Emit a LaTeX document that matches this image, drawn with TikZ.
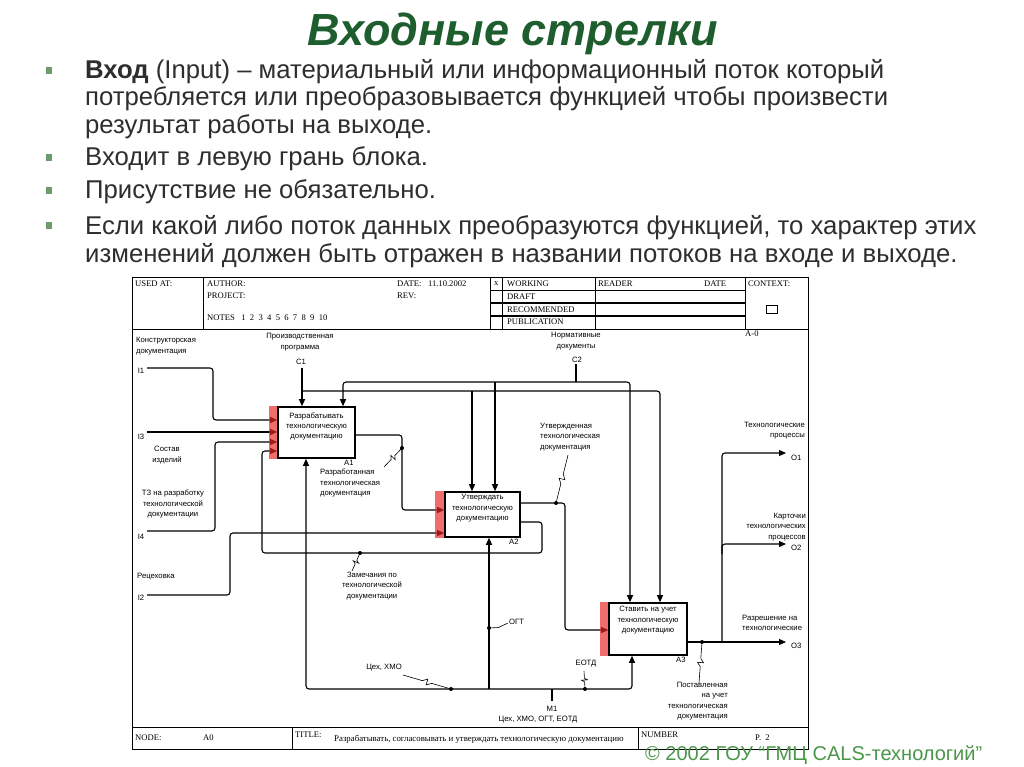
\documentclass[tikz,border=0pt]{standalone}
\usepackage{fontspec}
\setmainfont{Liberation Sans}
\newfontfamily\hdrfont{Liberation Serif}
\usetikzlibrary{arrows.meta,calc}
\definecolor{titlegreen}{HTML}{1E5E2E}
\definecolor{bulgreen}{HTML}{6B9B6B}
\definecolor{copygreen}{HTML}{4A964A}
\definecolor{idefred}{HTML}{E82828}
\definecolor{bodytext}{HTML}{2E2E2E}
\newcommand{\lblfont}{\fontsize{7.7}{10.4}\selectfont}
\newcommand{\squig}[2]{\draw[line width=0.6pt] (#1) -- ($(#1)!0.40!(#2)$) -- ($(#1)!0.5!(#2)!3pt!90:(#2)$) -- ($(#1)!0.5!(#2)!-3pt!90:(#2)$) -- ($(#1)!0.60!(#2)$) -- (#2);}
\begin{document}
\begin{tikzpicture}[x=1pt,y=-1pt,
  ln/.style={line width=1.1pt, rounded corners=3pt},
  arr/.style={ln,-{Triangle[length=7pt,width=6pt]}},
  barr/.style={ln,{Triangle[length=7pt,width=6pt]}-{Triangle[length=7pt,width=6pt]}},
  fbox/.style={draw,line width=1.6pt,fill=white,inner sep=0pt},
  boxtxt/.style={font=\lblfont,align=center,inner sep=0pt},
  lbl/.style={font=\lblfont,inner sep=0pt},
  hdr/.style={font=\hdrfont\fontsize{8.6}{9}\selectfont,inner sep=0pt},
  frame/.style={line width=0.9pt},
  bul/.style={font=\fontsize{25.7}{28}\selectfont,text=bodytext,inner sep=0pt,anchor=base west},
  strip/.style={fill=idefred,opacity=0.68}
]
\useasboundingbox[fill=white] (0,0) rectangle (1024,767);

% ---------- title ----------
\node[font=\fontsize{45}{50}\selectfont\bfseries\itshape,text=titlegreen,anchor=base,inner sep=0pt] (title) at (513,46) {Входные стрелки};

% ---------- bullets ----------
\fill[bulgreen] (46,67) rectangle (52,74);
\fill[bulgreen] (46,154) rectangle (52,161);
\fill[bulgreen] (46,187) rectangle (52,194);
\fill[bulgreen] (46,222) rectangle (52,229);
\node[bul] (b1) at (85,79) {\textbf{Вход} (Input) – материальный или информационный поток который};
\node[bul] (b2) at (85,106) {потребляется или преобразовывается функцией чтобы произвести};
\node[bul] (b3) at (85,134) {результат работы на выходе.};
\node[bul] (b4) at (85,166) {Входит в левую грань блока.};
\node[bul] (b5) at (85,199) {Присутствие не обязательно.};
\node[bul] (b6) at (85,234) {Если какой либо поток данных преобразуются функцией, то характер этих};
\node[bul] (b7) at (85,262) {изменений должен быть отражен в названии потоков на входе и выходе.};

% ---------- frame ----------
\draw[frame] (132,277) rectangle (808,749);
\draw[frame] (132,329) -- (808,329);
\draw[frame] (132,727) -- (808,727);
\foreach \xx in {203,490,502,595,745} \draw[frame] (\xx,277) -- (\xx,329);
\draw[line width=0.7pt] (490,290) -- (745,290);
\draw[line width=1.1pt] (490,303) -- (745,303);
\draw[line width=1.1pt] (490,316) -- (745,316);
\draw[frame] (292,727) -- (292,749);
\draw[frame] (638,727) -- (638,749);
\draw[line width=0.7pt] (766,305) rectangle (777,313);

\node[hdr,anchor=west] (usedat) at (135,284) {USED AT:};
\node[hdr,anchor=west] (author) at (207,284) {AUTHOR:};
\node[hdr,anchor=west] (project) at (207,296) {PROJECT:};
\node[hdr,anchor=west] (notes) at (207,318) {NOTES\ \ \ 1\ \ 2\ \ 3\ \ 4\ \ 5\ \ 6\ \ 7\ \ 8\ \ 9\ \ 10};
\node[hdr,anchor=west] (date) at (397,284) {DATE:\ \ \ 11.10.2002};
\node[hdr,anchor=west] (rev) at (397,296) {REV:};
\node[hdr,anchor=west] (xmark) at (494,284) {x};
\node[hdr,anchor=west] (working) at (507,284) {WORKING};
\node[hdr,anchor=west] (draft) at (507,297) {DRAFT};
\node[hdr,anchor=west] (recom) at (507,309.5) {RECOMMENDED};
\node[hdr,anchor=west] (publ) at (507,322) {PUBLICATION};
\node[hdr,anchor=west] (reader) at (598,284) {READER};
\node[hdr,anchor=west] (rdate) at (704,284) {DATE};
\node[hdr,anchor=west] (context) at (748,284) {CONTEXT:};
\node[hdr,anchor=west] (aminus) at (745,334) {A-0};

\node[hdr,anchor=west] (nodelbl) at (135,738) {NODE:};
\node[hdr,anchor=west] (nodeval) at (203,738) {A0};
\node[hdr,anchor=west] (titlelbl) at (295,735) {TITLE:};
\node[hdr,anchor=west,font=\hdrfont\fontsize{8.8}{9}\selectfont] (titleval) at (334,739) {Разрабатывать, согласовывать и утверждать технологическую документацию};
\node[hdr,anchor=west] (numlbl) at (641,735) {NUMBER};
\node[hdr,anchor=west] (numval) at (755,738) {P.\ \ 2};

% ---------- boxes ----------
\node[fbox,minimum width=77pt,minimum height=51pt] (A1) at (316.5,432.5) {};
\node[fbox,minimum width=75pt,minimum height=45pt] (A2) at (482.5,514.5) {};
\node[fbox,minimum width=78pt,minimum height=52pt] (A3) at (648,629) {};

% ---------- free ends ----------
\coordinate (i1s) at (147,368);
\coordinate (i3s) at (147,432);
\coordinate (i4s) at (147,531);
\coordinate (i2s) at (147,595);
\coordinate (c1s) at (302,368);
\coordinate (c2s) at (576,364);
\coordinate (m1s) at (552,701);
\coordinate (o1e) at (786,453);
\coordinate (o2e) at (786,544);
\coordinate (o3e) at (786,642);

% ---------- inputs ----------
\draw[arr] (i1s) -- (213,368) -- (213,420) -- (A1.west |- 0,420);
\draw[arr] (i3s) -- (A1.west |- 0,432);
\draw[arr] (i4s) -- (215,531) -- (215,442) -- (A1.west |- 0,442);
\draw[arr] (A2.east |- 0,522) -- (542,522) -- (542,553) -- (262,553) -- (262,451) -- (A1.west |- 0,451);
\draw[arr] (i2s) -- (230,595) -- (230,533) -- (A2.west |- 0,533);
\draw[arr] (A1.east |- 0,435) -- (402,435) -- (402,510) -- (A2.west |- 0,510);
\draw[arr] (A2.east |- 0,503) -- (565,503) -- (565,630) -- (A3.west |- 0,630);

% ---------- controls ----------
\draw[arr] (c1s) -- (A1.north -| 302,0);
\draw[arr] (302,391) -- (660,391) -- (A3.north -| 660,0);
\draw[arr] (472,391) -- (A2.north -| 472,0);
\draw[barr] (A1.north -| 343,0) -- (343,382) -- (630,382) -- (A3.north -| 630,0);
\draw[arr] (495,382) -- (A2.north -| 495,0);
\draw[ln] (c2s) -- (576,382);

% ---------- mechanisms ----------
\draw[barr] (A1.south -| 306,0) -- (306,689) -- (632,689) -- (A3.south -| 632,0);
\draw[arr] (489,689) -- (A2.south -| 489,0);
\draw[ln] (m1s) -- (552,689);

% ---------- outputs ----------
\draw[arr] (A3.east |- 0,642) -- (o3e);
\draw[arr] (722,642) -- (722,453) -- (o1e);
\draw[arr] (722,554) -- (722,544) -- (o2e);

% ---------- red strips ----------
\fill[strip] ([xshift=-8.5pt]A1.north west) rectangle (A1.south west);
\fill[strip] ([xshift=-9pt]A2.north west) rectangle (A2.south west);
\fill[strip] ([xshift=-8.5pt]A3.north west) rectangle (A3.south west);

% ---------- box texts ----------
\node[boxtxt,anchor=north] (A1t) at ([yshift=-6pt]A1.north) {Разрабатывать\\технологическую\\документацию};
\node[boxtxt,anchor=north] (A2t) at ([yshift=-3pt]A2.north) {Утверждать\\технологическую\\документацию};
\node[boxtxt,anchor=north] (A3t) at ([yshift=-4pt]A3.north) {Ставить на учет\\технологическую\\документацию};
\node[lbl,anchor=north east] (A1n) at ([xshift=-2pt,yshift=-1pt]A1.south east) {A1};
\node[lbl,anchor=north east] (A2n) at ([xshift=-2pt,yshift=-1pt]A2.south east) {A2};
\node[lbl,anchor=north east] (A3n) at ([xshift=-2pt,yshift=-1pt]A3.south east) {A3};

% ---------- dots & squiggles ----------
\coordinate (d1) at (402,448); \coordinate (s1) at (384,467);
\coordinate (d2) at (556,503); \coordinate (s2) at (568,455);
\coordinate (d3) at (360,553); \coordinate (s3) at (352,571);
\coordinate (d4) at (451,689); \coordinate (s4) at (403,675);
\coordinate (d5) at (489,628); \coordinate (s5) at (508,623);
\coordinate (d6) at (585,689); \coordinate (s6) at (584,671);
\coordinate (d7) at (702,642); \coordinate (s7) at (699,683);
\foreach \d in {d1,d2,d3,d4,d5,d6,d7} \fill (\d) circle (2pt);
\squig{s1}{d1}
\squig{s2}{d2}
\squig{s3}{d3}
\squig{s4}{d4}
\draw[line width=0.6pt] (s5) -- ($(s5)!0.5!(d5)+(0,2)$) -- (d5);
\squig{s6}{d6}
\squig{s7}{d7}

% ---------- labels ----------
\node[lbl,anchor=west,align=left] (l_i1) at (136,346) {Конструкторская\\документация};
\node[lbl] (i1) at (141,371) {I1};
\node[lbl] (i3) at (141,437) {I3};
\node[lbl,align=center] (l_i3) at (167,455) {Состав\\изделий};
\node[lbl,align=center] (l_i4) at (173,504) {ТЗ на разработку\\технологической\\документации};
\node[lbl] (i4) at (141,537) {I4};
\node[lbl,anchor=west] (l_i2) at (137,577) {Рецеховка};
\node[lbl] (i2) at (141,598) {I2};
\node[lbl,align=center] (l_c1) at (300,342) {Производственная\\программа};
\node[lbl] (c1) at (301,362) {C1};
\node[lbl,align=center] (l_c2) at (576,341) {Нормативные\\документы};
\node[lbl] (c2) at (577,360) {C2};
\node[lbl,anchor=north west,align=left] (l_a1o) at (320,469) {Разработанная\\технологическая\\документация};
\node[lbl,anchor=north west,align=left] (l_a2o) at (540,423) {Утвержденная\\технологическая\\документация};
\node[lbl,align=center] (l_fb) at (372,586) {Замечания по\\технологической\\документации};
\node[lbl] (l_ceh) at (384,668) {Цех, ХМО};
\node[lbl,anchor=west] (l_ogt) at (509,622) {ОГТ};
\node[lbl] (l_eotd) at (586,664) {ЕОТД};
\node[lbl] (m1) at (552,709) {M1};
\node[lbl] (l_m1) at (538,720) {Цех, ХМО, ОГТ, ЕОТД};
\node[lbl,anchor=north east,align=right] (l_o3b) at (728,682) {Поставленная\\на учет\\технологическая\\документация};
\node[lbl,anchor=north east,align=right] (l_o1) at (805,422) {Технологические\\процессы};
\node[lbl,anchor=west] (o1) at (791,458) {O1};
\node[lbl,anchor=north east,align=right] (l_o2) at (806,513) {Карточки\\технологических\\процессов};
\node[lbl,anchor=west] (o2) at (791,548) {O2};
\begin{scope}
\clip (700,600) rectangle (806,640);
\node[lbl,anchor=north west,align=left] (l_o3) at (742,615) {Разрешение на\\технологические};
\end{scope}
\node[lbl,anchor=west] (o3) at (791,646) {O3};

% ---------- copyright ----------
\node[font=\fontsize{20}{22}\selectfont,text=copygreen,anchor=base west,inner sep=0pt] (copy) at (645,760) {© 2002 ГОУ “ГМЦ CALS-технологий”};
\end{tikzpicture}
\end{document}
